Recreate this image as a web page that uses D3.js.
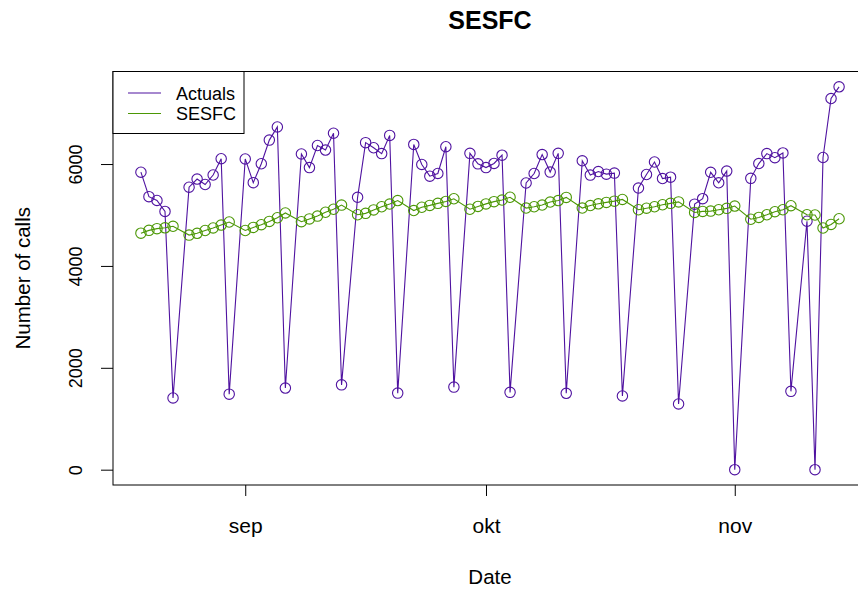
<!DOCTYPE html>
<html>
<head>
<meta charset="utf-8">
<script src="https://cdn.jsdelivr.net/npm/d3@7"></script>
<style>
	body { margin: 0; background: white; }
	svg { display: block; font-family: "Liberation Sans", Arial, sans-serif; }
</style>
</head>
<body>
<div id="chart"></div>
<script>
// daily dates (Mon-Sat, Sundays missing)
var dates = [
	'2014-08-19', '2014-08-20', '2014-08-21', '2014-08-22', '2014-08-23',
	'2014-08-25', '2014-08-26', '2014-08-27', '2014-08-28', '2014-08-29', '2014-08-30',
	'2014-09-01', '2014-09-02', '2014-09-03', '2014-09-04', '2014-09-05', '2014-09-06',
	'2014-09-08', '2014-09-09', '2014-09-10', '2014-09-11', '2014-09-12', '2014-09-13',
	'2014-09-15', '2014-09-16', '2014-09-17', '2014-09-18', '2014-09-19', '2014-09-20',
	'2014-09-22', '2014-09-23', '2014-09-24', '2014-09-25', '2014-09-26', '2014-09-27',
	'2014-09-29', '2014-09-30', '2014-10-01', '2014-10-02', '2014-10-03', '2014-10-04',
	'2014-10-06', '2014-10-07', '2014-10-08', '2014-10-09', '2014-10-10', '2014-10-11',
	'2014-10-13', '2014-10-14', '2014-10-15', '2014-10-16', '2014-10-17', '2014-10-18',
	'2014-10-20', '2014-10-21', '2014-10-22', '2014-10-23', '2014-10-24', '2014-10-25',
	'2014-10-27', '2014-10-28', '2014-10-29', '2014-10-30', '2014-10-31', '2014-11-01',
	'2014-11-03', '2014-11-04', '2014-11-05', '2014-11-06', '2014-11-07', '2014-11-08',
	'2014-11-10', '2014-11-11', '2014-11-12', '2014-11-13', '2014-11-14'
]

var actuals = [
	5840, 5360, 5285, 5070, 1408,
	5545, 5705, 5598, 5785, 6105, 1483,
	6100, 5635, 6006, 6470, 6728, 1602,
	6198, 5930, 6364, 6274, 6605, 1665,
	5347, 6420, 6320, 6205, 6562, 1503,
	6385, 5992, 5762, 5815, 6340, 1621,
	6210, 6004, 5930, 6012, 6174, 1518,
	5628, 5814, 6186, 5842, 6210, 1499,
	6064, 5783, 5853, 5802, 5822, 1447,
	5529, 5795, 6040, 5715, 5742, 1290,
	5213, 5320, 5838, 5632, 5862, 0,
	5719, 6010, 6205, 6124, 6218, 1538,
	4877, 0, 6128, 7286, 7516
]

var sesfc = [
	4643, 4698, 4732, 4748, 4778,
	4605, 4640, 4695, 4745, 4802, 4862,
	4695, 4756, 4809, 4874, 4946, 5040,
	4868, 4923, 4978, 5054, 5113, 5194,
	5005, 5032, 5100, 5162, 5215, 5283,
	5087, 5152, 5188, 5228, 5266, 5319,
	5113, 5168, 5218, 5262, 5293, 5348,
	5136, 5162, 5195, 5254, 5283, 5345,
	5136, 5185, 5219, 5247, 5272, 5305,
	5103, 5133, 5162, 5201, 5228, 5257,
	5050, 5070, 5076, 5103, 5130, 5175,
	4916, 4952, 5005, 5064, 5103, 5182,
	5005, 5000, 4744, 4815, 4926
]

var yTicks = [0, 2000, 4000, 6000]
var monthTicks = ['2014-09-01', '2014-10-01', '2014-11-01']
var monthLabels = ['sep', 'okt', 'nov']

var legendLabels = ['Actuals', 'SESFC']
var colActuals = '#4f12a0'
var colSesfc = '#4b9705'

var width = 858
var height = 594
// plot region (right edge falls outside the picture, like the original)
var plotLeft = 113
var plotRight = 867
var plotTop = 71.5
var plotBottom = 485

var parseDate = d3.utcParse('%Y-%m-%d')
var t = dates.map(parseDate)

var svg = d3.select('#chart')
	.append('svg')
	.attr('width', width)
	.attr('height', height)

// R style 4% padding of the ranges
var xExt = d3.extent(t)
var xPad = (xExt[1] - xExt[0]) * 0.04
var x = d3.scaleUtc()
	.domain([new Date(+xExt[0] - xPad), new Date(+xExt[1] + xPad)])
	.range([plotLeft, plotRight])

var allY = actuals.concat(sesfc)
var yExt = d3.extent(allY)
var yPad = (yExt[1] - yExt[0]) * 0.04
var y = d3.scaleLinear()
	.domain([yExt[0] - yPad, yExt[1] + yPad])
	.range([plotBottom, plotTop])

var fs = 20.5

// title
svg.append('text')
	.attr('x', (plotLeft + plotRight) / 2)
	.attr('y', 29)
	.attr('text-anchor', 'middle')
	.attr('font-weight', 'bold')
	.attr('font-size', 25)
	.text('SESFC')

// axes
var xAxis = d3.axisBottom(x)
	.tickValues(monthTicks.map(parseDate))
	.tickFormat((d, i) => monthLabels[i])
	.tickSize(11)
	.tickPadding(22)

var gx = svg.append('g')
	.attr('transform', `translate(0,${plotBottom})`)
	.call(xAxis)
gx.select('.domain').remove()
gx.selectAll('line').attr('stroke', 'black')
gx.selectAll('text').attr('font-size', 21).attr('fill', 'black').attr('font-family', null)

var yAxis = d3.axisLeft(y)
	.tickValues(yTicks)
	.tickFormat(d3.format('d'))
	.tickSize(12)

var gy = svg.append('g')
	.attr('transform', `translate(${plotLeft},0)`)
	.call(yAxis)
gy.select('.domain').remove()
gy.selectAll('line').attr('stroke', 'black')
gy.selectAll('text')
	.attr('font-size', 18)
	.attr('fill', 'black')
	.attr('font-family', null)
	.attr('x', null)
	.attr('dy', null)
	.attr('text-anchor', 'middle')
	.attr('transform', 'translate(-31,0) rotate(-90)')

// box
svg.append('rect')
	.attr('x', plotLeft)
	.attr('y', plotTop)
	.attr('width', plotRight - plotLeft)
	.attr('height', plotBottom - plotTop)
	.attr('fill', 'none')
	.attr('stroke', 'black')
	.attr('stroke-width', 1)

// axis titles
svg.append('text')
	.attr('x', (plotLeft + plotRight) / 2)
	.attr('y', 584)
	.attr('text-anchor', 'middle')
	.attr('font-size', fs)
	.text('Date')

svg.append('text')
	.attr('transform', `translate(30,${(plotTop + plotBottom) / 2}) rotate(-90)`)
	.attr('text-anchor', 'middle')
	.attr('font-size', fs)
	.text('Number of calls')

// series
function drawSeries(values, color) {
	var line = d3.line()
		.x((d, i) => x(t[i]))
		.y(d => y(d))
	var g = svg.append('g')
	g.append('path')
		.datum(values)
		.attr('d', line)
		.attr('fill', 'none')
		.attr('stroke', color)
		.attr('stroke-width', 1.1)
	g.selectAll('circle')
		.data(values)
		.join('circle')
		.attr('cx', (d, i) => x(t[i]))
		.attr('cy', d => y(d))
		.attr('r', 5.2)
		.attr('fill', 'none')
		.attr('stroke', color)
		.attr('stroke-width', 1.1)
}

drawSeries(actuals, colActuals)
drawSeries(sesfc, colSesfc)

// legend
var legend = svg.append('g')
legend.append('rect')
	.attr('x', plotLeft)
	.attr('y', plotTop)
	.attr('width', 131)
	.attr('height', 62)
	.attr('fill', 'white')
	.attr('stroke', 'black')
var legendCols = [colActuals, colSesfc]
legendLabels.forEach((lab, i) => {
	var ly = 93 + i * 20.5
	legend.append('line')
		.attr('x1', 128).attr('x2', 161)
		.attr('y1', ly).attr('y2', ly)
		.attr('stroke', legendCols[i])
		.attr('stroke-width', 1.1)
	legend.append('text')
		.attr('x', 176)
		.attr('y', ly + 6.5)
		.attr('font-size', 18)
		.text(lab)
})
</script>
</body>
</html>
